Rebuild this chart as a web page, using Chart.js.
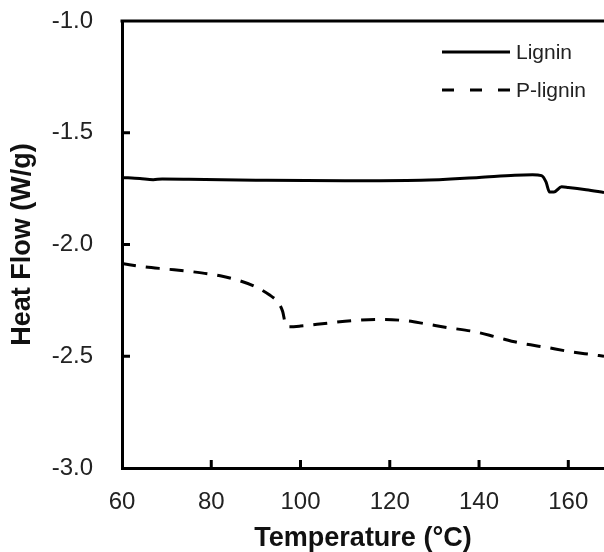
<!DOCTYPE html>
<html>
<head>
<meta charset="utf-8">
<script src="https://cdn.jsdelivr.net/npm/chart.js@4/dist/chart.umd.min.js"></script>
<style>
  html, body { margin: 0; padding: 0; background: #fff; }
  #wrap { width: 604px; height: 552px; }
</style>
</head>
<body>
<div id="wrap"><canvas id="myChart" width="604" height="552"></canvas></div>
<script>
// Data
var ligninTemp = [60, 64, 67, 69, 75, 90, 110, 127, 140, 148, 152, 154, 155, 155.8, 156.8, 158.5, 160, 164, 168];
var ligninFlow = [-1.70, -1.705, -1.710, -1.707, -1.708, -1.712, -1.715, -1.713, -1.70, -1.69, -1.688, -1.692, -1.72, -1.765, -1.765, -1.742, -1.745, -1.755, -1.767];

var pligninTemp = [60, 65, 70, 75, 82, 86, 90, 93, 95, 96, 96.7, 97.5, 100, 106, 112, 118, 124, 128, 133, 139, 144, 149, 155, 160, 165, 168];
var pligninFlow = [-2.085, -2.10, -2.11, -2.12, -2.14, -2.16, -2.19, -2.225, -2.26, -2.30, -2.36, -2.368, -2.365, -2.352, -2.34, -2.335, -2.342, -2.355, -2.372, -2.39, -2.415, -2.44, -2.46, -2.478, -2.492, -2.50];

var xTicks = [60, 80, 100, 120, 140, 160];
var yTicks = [-3.0, -2.5, -2.0, -1.5, -1.0];

var fontFamily = '"Liberation Sans", Arial, sans-serif';

function toPoints(xs, ys) {
    return xs.map(function (x, i) { return { x: x, y: ys[i] }; });
}

// inward tick marks, top frame line and the legend
var framePlugin = {
    id: 'frame',
    afterDraw: function (chart) {
        var ctx = chart.ctx;
        var area = chart.chartArea;
        var xs = chart.scales.x;
        var ys = chart.scales.y;
        ctx.save();
        ctx.strokeStyle = '#000';
        ctx.lineWidth = 3;
        ctx.lineCap = 'butt';
        ctx.beginPath();
        ctx.moveTo(area.left - 1.5, area.top);
        ctx.lineTo(chart.width, area.top);
        ctx.stroke();
        xTicks.forEach(function (v) {
            if (v === 60) return;
            var px = xs.getPixelForValue(v);
            ctx.beginPath();
            ctx.moveTo(px, area.bottom);
            ctx.lineTo(px, area.bottom - 8);
            ctx.stroke();
        });
        yTicks.forEach(function (v) {
            if (v === -3.0 || v === -1.0) return;
            var py = ys.getPixelForValue(v);
            ctx.beginPath();
            ctx.moveTo(area.left, py);
            ctx.lineTo(area.left + 8, py);
            ctx.stroke();
        });

        // legend
        var items = [
            { label: 'Lignin', dash: [], y: 52 },
            { label: 'P-lignin', dash: [12, 16], y: 90 }
        ];
        ctx.font = '21px ' + fontFamily;
        ctx.fillStyle = '#222';
        ctx.textBaseline = 'middle';
        items.forEach(function (it) {
            ctx.setLineDash(it.dash);
            ctx.beginPath();
            ctx.moveTo(442, it.y);
            ctx.lineTo(510, it.y);
            ctx.stroke();
            ctx.setLineDash([]);
            ctx.fillText(it.label, 516, it.y + 1);
        });
        ctx.restore();
    }
};

var ctx = document.getElementById('myChart').getContext('2d');
var myChart = new Chart(ctx, {
    type: 'line',
    data: {
        datasets: [{
            label: 'Lignin',
            data: toPoints(ligninTemp, ligninFlow),
            borderColor: '#000',
            borderWidth: 3,
            pointRadius: 0,
            cubicInterpolationMode: 'monotone',
            fill: false
        }, {
            label: 'P-lignin',
            data: toPoints(pligninTemp, pligninFlow),
            borderColor: '#000',
            borderWidth: 3,
            borderDash: [14, 10],
            pointRadius: 0,
            cubicInterpolationMode: 'monotone',
            fill: false
        }]
    },
    options: {
        responsive: false,
        animation: false,
        layout: { padding: { top: 21, right: 0, left: 5, bottom: 0 } },
        plugins: {
            legend: { display: false },
            tooltip: { enabled: false }
        },
        scales: {
            x: {
                type: 'linear',
                min: 60,
                max: 168,
                afterBuildTicks: function (scale) {
                    scale.ticks = xTicks.map(function (v) { return { value: v }; });
                },
                afterFit: function (scale) {
                    scale.height = 84;
                    scale.paddingLeft = 0;
                    scale.paddingRight = 0;
                },
                grid: { drawOnChartArea: false, drawTicks: false },
                border: { color: '#000', width: 3 },
                ticks: {
                    color: '#222',
                    padding: 20,
                    maxRotation: 0,
                    font: { family: fontFamily, size: 24 }
                },
                title: {
                    display: true,
                    text: 'Temperature (°C)',
                    color: '#111',
                    padding: { top: 0, bottom: 0 },
                    font: { family: fontFamily, size: 27, weight: 'bold', lineHeight: 1 }
                }
            },
            y: {
                min: -3.0,
                max: -1.0,
                afterBuildTicks: function (scale) {
                    scale.ticks = yTicks.map(function (v) { return { value: v }; });
                },
                afterFit: function (scale) {
                    scale.width = 117;
                    scale.paddingTop = 0;
                    scale.paddingBottom = 0;
                },
                grid: { drawOnChartArea: false, drawTicks: false },
                border: { color: '#000', width: 3 },
                ticks: {
                    color: '#222',
                    padding: 29,
                    font: { family: fontFamily, size: 24 },
                    callback: function (v) { return v.toFixed(1); }
                },
                title: {
                    display: true,
                    text: 'Heat Flow (W/g)',
                    color: '#111',
                    padding: { top: 4, bottom: 4 },
                    font: { family: fontFamily, size: 27, weight: 'bold', lineHeight: 1 }
                }
            }
        }
    },
    plugins: [framePlugin]
});
</script>
</body>
</html>
